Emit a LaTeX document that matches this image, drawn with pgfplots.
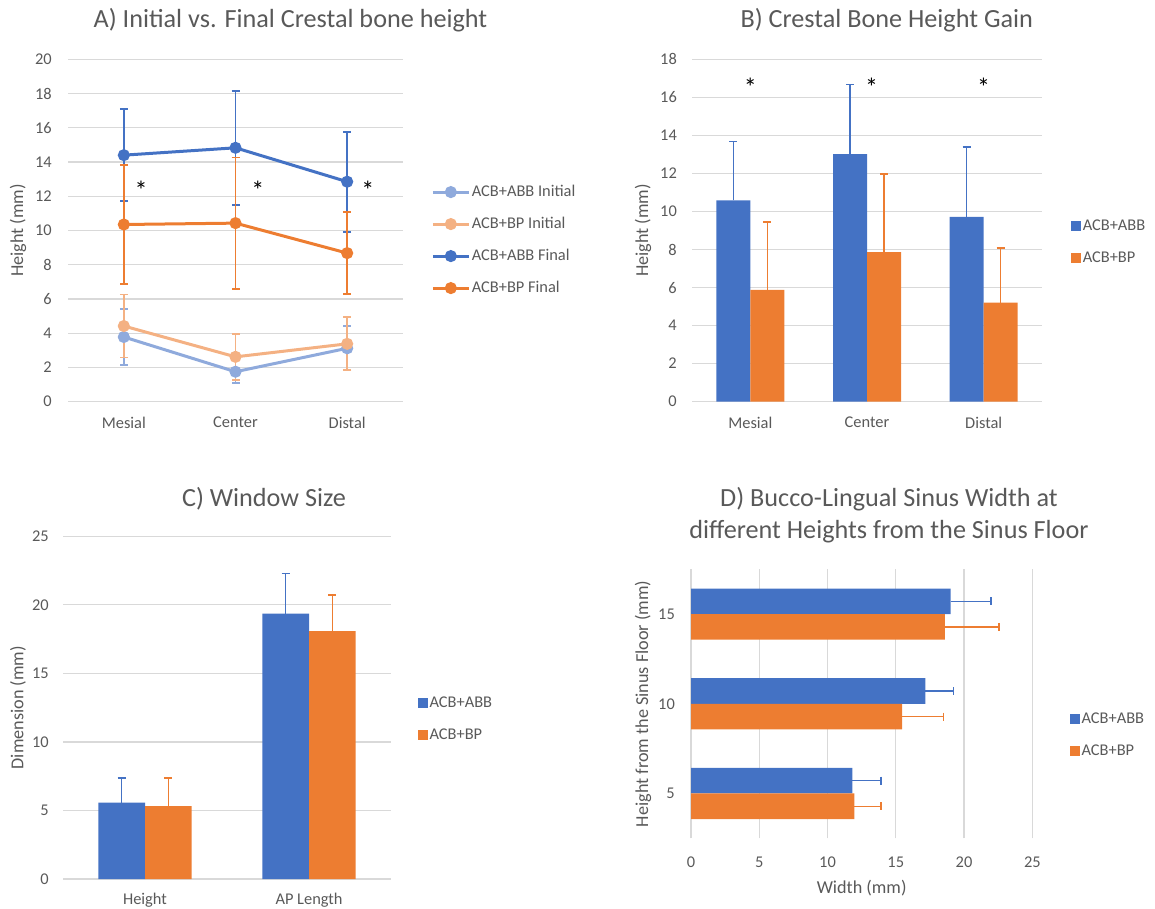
\documentclass[border=0pt]{standalone}
\usepackage{pgfplots}
\pgfplotsset{compat=1.18}
\usepackage{fontspec}
\setmainfont{Carlito}
\definecolor{cblue}{HTML}{4472C4}
\definecolor{corange}{HTML}{ED7D31}
\definecolor{lblue}{HTML}{8FAADC}
\definecolor{lorange}{HTML}{F4B183}
\definecolor{txt}{HTML}{595959}
\definecolor{gridc}{HTML}{D9D9D9}
\pgfplotsset{
  panel/.style={
    scale only axis, anchor=south west, clip=false,
    axis line style={draw=none}, major tick length=0pt,
    grid style={draw=gridc, line width=1.3pt},
    ticklabel style={font=\fontsize{16.4}{19}\selectfont, text=txt, inner sep=0pt},
    /pgf/number format/assume math mode=true,
    label style={font=\fontsize{18.2}{22}\selectfont, text=txt},
    legend cell align=left,
    legend style={draw=none, fill=none, inner sep=0pt, font=\fontsize{16.4}{19}\selectfont, text=txt,
      row sep=14pt, nodes={inner sep=1.5pt, text height=12pt, text depth=3pt}},
  },
  sq/.style={legend image code/.code={\fill[##1] (0pt,-5pt) rectangle (10pt,5pt);}},
  ln/.style={legend image code/.code={\draw[mark repeat=2,mark phase=2,##1] plot coordinates {(0pt,0pt) (18pt,0pt) (36pt,0pt)};}},
}
\tikzset{ast/.style={font=\fontsize{26}{30}\selectfont, text=black, anchor=base}}
\begin{document}
\begin{tikzpicture}[x=1pt,y=1pt]
\path[use as bounding box] (0pt,0pt) rectangle (1155pt,908pt);
% titles
\node[font=\fontsize{26.2}{30}\selectfont, text=txt, anchor=base] at (290.5pt,880pt) {A) Initial vs. Final Crestal bone height};
\node[font=\fontsize{26.2}{30}\selectfont, text=txt, anchor=base] at (886.7pt,880pt) {B) Crestal Bone Height Gain};
\node[font=\fontsize{26.2}{30}\selectfont, text=txt, anchor=base] at (264pt,401.3pt) {C) Window Size};
\node[font=\fontsize{26.2}{30}\selectfont, text=txt, anchor=base] at (889pt,401.3pt) {D) Bucco-Lingual Sinus Width at};
\node[font=\fontsize{26.2}{30}\selectfont, text=txt, anchor=base] at (889pt,369.7pt) {different Heights from the Sinus Floor};

% ---------- A ----------
\begin{axis}[panel, at={(68pt,506.3pt)}, width=335pt, height=342.4pt,
  xmin=-0.5, xmax=2.5, ymin=0, ymax=20, ytick={0,2,...,20},
  xtick={0,1,2}, xticklabels={Mesial,Center,Distal}, ymajorgrids,
  xticklabel style={anchor=center, yshift=-21pt},
  yticklabel style={anchor=east, xshift=-16pt},
  ylabel={Height (mm)}, ylabel style={at={(axis description cs:-0.149,0.5)}, anchor=center},
  legend style={at={(axis description cs:1.084,0.472)}, anchor=west}]
\addplot[ln, color=lblue, line width=3pt, mark=*, mark size=4.5pt, mark options={solid},
  error bars/.cd, y dir=both, y explicit, error bar style={line width=1.5pt, color=lblue},
  error mark options={rotate=90, line width=1.8pt, mark size=4pt, color=lblue}]
  table[x=x, y=y, y error=e] {
x y e
0 3.78 1.62
1 1.75 0.67
2 3.12 1.28
};
\addlegendentry{ACB+ABB Initial}
\addplot[ln, color=lorange, line width=3pt, mark=*, mark size=4.5pt, mark options={solid},
  error bars/.cd, y dir=both, y explicit, error bar style={line width=1.5pt, color=lorange},
  error mark options={rotate=90, line width=1.8pt, mark size=4pt, color=lorange}]
  table[x=x, y=y, y error=e] {
x y e
0 4.42 1.84
1 2.62 1.33
2 3.38 1.55
};
\addlegendentry{ACB+BP Initial}
\addplot[ln, color=cblue, line width=3pt, mark=*, mark size=4.5pt, mark options={solid},
  error bars/.cd, y dir=both, y explicit, error bar style={line width=1.5pt, color=cblue},
  error mark options={rotate=90, line width=1.8pt, mark size=4pt, color=cblue}]
  table[x=x, y=y, y error=e] {
x y e
0 14.4 2.7
1 14.83 3.34
2 12.85 2.92
};
\addlegendentry{ACB+ABB Final}
\addplot[ln, color=corange, line width=3pt, mark=*, mark size=4.5pt, mark options={solid},
  error bars/.cd, y dir=both, y explicit, error bar style={line width=1.5pt, color=corange},
  error mark options={rotate=90, line width=1.8pt, mark size=4pt, color=corange}]
  table[x=x, y=y, y error=e] {
x y e
0 10.35 3.48
1 10.43 3.83
2 8.68 2.4
};
\addlegendentry{ACB+BP Final}
\node[ast] at (axis cs:0.154,11.82) {*};
\node[ast] at (axis cs:1.2,11.82) {*};
\node[ast] at (axis cs:2.186,11.82) {*};
\end{axis}

% ---------- B ----------
\begin{axis}[panel, at={(692pt,506.3pt)}, width=350pt, height=342.4pt, ybar, bar width=34pt,
  xmin=-0.5, xmax=2.5, ymin=0, ymax=18, ytick={0,2,...,18},
  xtick={0,1,2}, xticklabels={Mesial,Center,Distal}, ymajorgrids,
  xticklabel style={anchor=center, yshift=-21pt},
  yticklabel style={anchor=east, xshift=-15pt},
  ylabel={Height (mm)}, ylabel style={at={(axis description cs:-0.14,0.5)}, anchor=center},
  legend style={at={(axis description cs:1.083,0.465)}, anchor=west}]
\addplot[sq, fill=cblue, draw=none, bar shift=-17pt,
  error bars/.cd, y dir=plus, y explicit, error bar style={line width=1.5pt, color=cblue},
  error mark options={rotate=90, line width=1.8pt, mark size=4pt, color=cblue}]
  table[x=x, y=y, y error=e] {
x y e
0 10.58 3.1
1 13.02 3.66
2 9.72 3.68
};
\addlegendentry{ACB+ABB}
\addplot[sq, fill=corange, draw=none, bar shift=17pt,
  error bars/.cd, y dir=plus, y explicit, error bar style={line width=1.5pt, color=corange},
  error mark options={rotate=90, line width=1.8pt, mark size=4pt, color=corange}]
  table[x=x, y=y, y error=e] {
x y e
0 5.88 3.58
1 7.86 4.12
2 5.21 2.86
};
\addlegendentry{ACB+BP}
\node[ast] at (axis cs:0,16.02) {*};
\node[ast] at (axis cs:1.04,16.02) {*};
\node[ast] at (axis cs:2,16.02) {*};
\end{axis}

% ---------- C ----------
\begin{axis}[panel, at={(63pt,29pt)}, width=328pt, height=342.7pt, ybar, bar width=46.7pt,
  xmin=-0.5, xmax=1.5, ymin=0, ymax=25, ytick={0,5,...,25},
  xtick={0,1}, xticklabels={Height,AP Length}, ymajorgrids,
  xticklabel style={anchor=center, yshift=-21pt},
  yticklabel style={anchor=east, xshift=-14pt},
  ylabel={Dimension (mm)}, ylabel style={at={(axis description cs:-0.137,0.5)}, anchor=center},
  legend style={at={(axis description cs:1.082,0.467)}, anchor=west}]
\addplot[sq, fill=cblue, draw=none, bar shift=-23.35pt,
  error bars/.cd, y dir=plus, y explicit, error bar style={line width=1.5pt, color=cblue},
  error mark options={rotate=90, line width=1.8pt, mark size=4pt, color=cblue}]
  table[x=x, y=y, y error=e] {
x y e
0 5.57 1.82
1 19.36 2.92
};
\addlegendentry{ACB+ABB}
\addplot[sq, fill=corange, draw=none, bar shift=23.35pt,
  error bars/.cd, y dir=plus, y explicit, error bar style={line width=1.5pt, color=corange},
  error mark options={rotate=90, line width=1.8pt, mark size=4pt, color=corange}]
  table[x=x, y=y, y error=e] {
x y e
0 5.31 2.08
1 18.08 2.63
};
\addlegendentry{ACB+BP}
\end{axis}

% ---------- D ----------
\begin{axis}[panel, at={(691pt,69.7pt)}, width=341.3pt, height=269pt, xbar, bar width=25.6pt,
  xmin=0, xmax=25, xtick={0,5,...,25}, ymin=0.5, ymax=3.5,
  ytick={1,2,3}, yticklabels={5,10,15}, xmajorgrids,
  xticklabel style={anchor=center, yshift=-24pt},
  yticklabel style={anchor=east, xshift=-16pt},
  xlabel={Width (mm)}, xlabel style={at={(axis description cs:0.5,-0.186)}, anchor=center},
  ylabel={Height from the Sinus Floor (mm)}, ylabel style={at={(axis description cs:-0.1406,0.5)}, anchor=center},
  legend style={at={(axis description cs:1.11,0.384)}, anchor=west}]
\addplot[sq, fill=cblue, draw=none, bar shift=12.8pt,
  error bars/.cd, x dir=plus, x explicit, error bar style={line width=1.5pt, color=cblue},
  error mark options={rotate=90, line width=1.8pt, mark size=4pt, color=cblue}]
  table[x=x, y=y, x error=e] {
x y e
11.82 1 2.1
17.17 2 2.05
19.02 3 2.96
};
\addlegendentry{ACB+ABB}
\addplot[sq, fill=corange, draw=none, bar shift=-12.8pt,
  error bars/.cd, x dir=plus, x explicit, error bar style={line width=1.5pt, color=corange},
  error mark options={rotate=90, line width=1.8pt, mark size=4pt, color=corange}]
  table[x=x, y=y, x error=e] {
x y e
11.97 1 1.93
15.46 2 3.03
18.6 3 3.94
};
\addlegendentry{ACB+BP}
\end{axis}
\end{tikzpicture}
\end{document}
